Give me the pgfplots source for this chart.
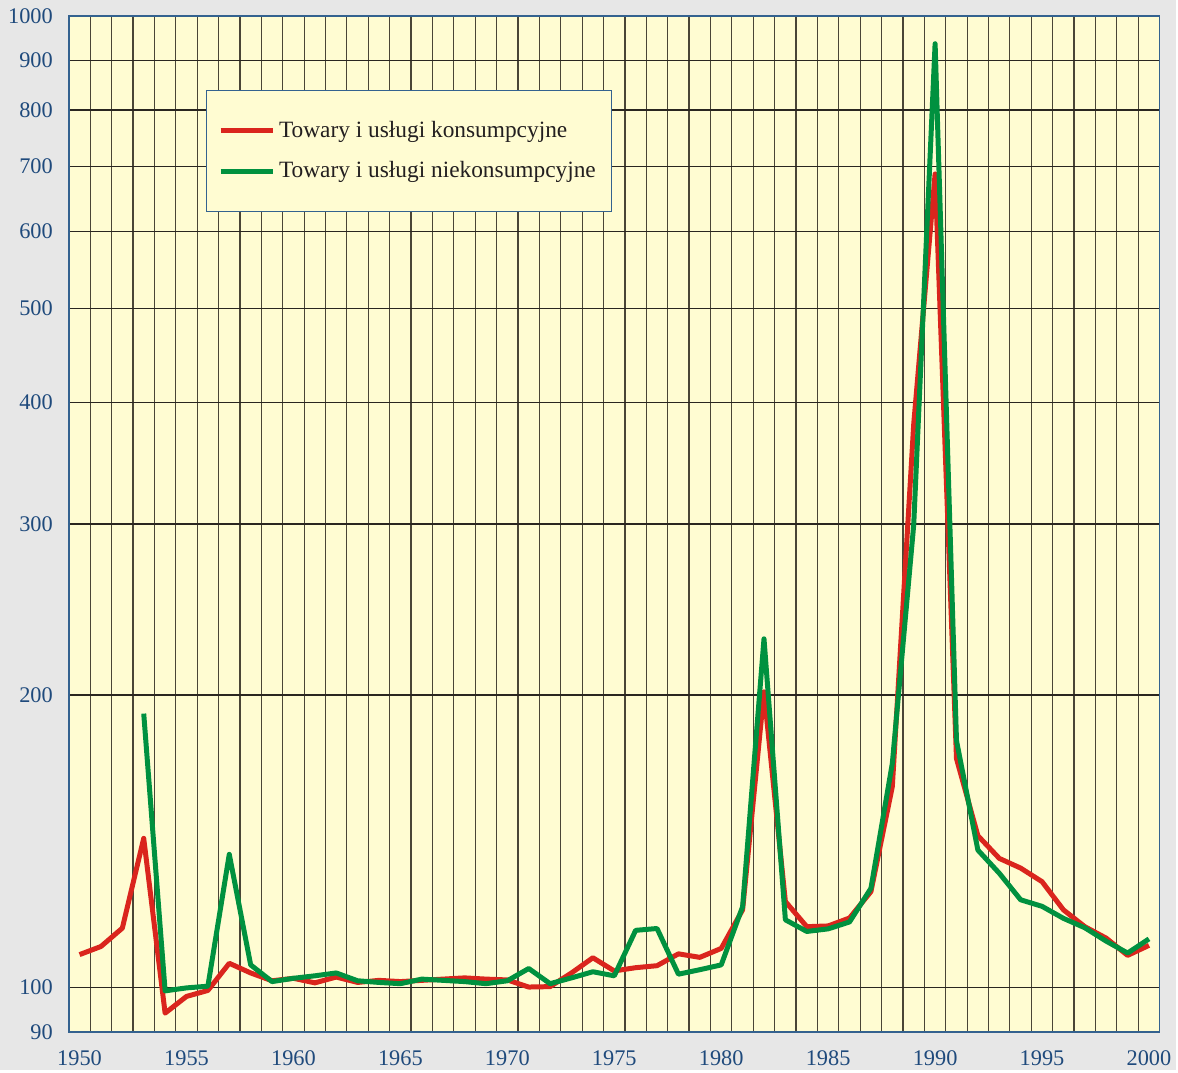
\documentclass[border=0pt]{standalone}
\usepackage{pgfplots}
\pgfplotsset{compat=1.18}
\usepackage{fontspec}
\setmainfont{Liberation Serif}
\definecolor{bggray}{HTML}{E7E7E7}
\definecolor{plotyellow}{HTML}{FFFCD2}
\definecolor{axisblue}{HTML}{34628F}
\definecolor{tickblue}{HTML}{1F4A7C}
\definecolor{gridv}{HTML}{4A4536}
\definecolor{gridh}{HTML}{2A2620}
\definecolor{redline}{HTML}{DA251D}
\definecolor{greenline}{HTML}{00913F}
\definecolor{textdark}{HTML}{231F20}
\begin{document}
\begin{tikzpicture}
\fill[bggray] (-34.5pt,-19pt) rectangle (554.5pt,517pt);
\begin{axis}[
  at={(0,0)}, anchor=south west,
  scale only axis, width=546.5pt, height=509pt,
  ymode=log,
  xmin=1949.5, xmax=2000.5, ymin=90, ymax=1000,
  axis background/.style={fill=plotyellow},
  axis line style={draw=axisblue, line width=0.8pt},
  xtick={1950,1955,...,2000},
  xticklabels={1950,1955,1960,1965,1970,1975,1980,1985,1990,1995,2000},
  minor xtick={1950.5,1951.5,...,1999.5},
  ytick={90,100,200,300,400,500,600,700,800,900,1000},
  yticklabels={90,100,200,300,400,500,600,700,800,900,1000},
  minor ytick={},
  major tick length=0pt, minor tick length=0pt,
  xminorgrids=true, ymajorgrids=true, xmajorgrids=false,
  minor x grid style={draw=gridv, line width=0.6pt},
  major y grid style={draw=gridh, line width=0.6pt},
  ticklabel style={font=\fontsize{11.2}{13}\selectfont, text=tickblue},
  xticklabel style={yshift=-6pt},
  yticklabel style={xshift=-4.5pt},
  legend style={at={(0.1253,0.9273)}, anchor=north west, draw=axisblue, line width=0.6pt,
    fill=plotyellow, inner xsep=6pt, inner ysep=13.5pt, row sep=6.5pt,
    font=\fontsize{11.7}{14}\selectfont, text=textdark,
    /tikz/every even column/.append style={column sep=3pt}},
  legend cell align=left,
  legend image code/.code={\draw[#1, line width=2.5pt] (0pt,0pt) -- (26pt,0pt);},
  clip=true,
]
\addplot[redline, line width=2.5pt, line join=round] coordinates {
(1950,108.1) (1951,110.2) (1952,115.1) (1953,142.4) (1954,94.1) (1955,97.9)
(1956,99.3) (1957,105.9) (1958,103.5) (1959,101.6) (1960,102.2) (1961,101.1)
(1962,102.5) (1963,101.2) (1964,101.7) (1965,101.4) (1966,101.7) (1967,102.0)
(1968,102.3) (1969,102.0) (1970,101.8) (1971,100.1) (1972,100.2) (1973,103.5)
(1974,107.3) (1975,104.0) (1976,104.8) (1977,105.3) (1978,108.3) (1979,107.4)
(1980,109.7) (1981,120.2) (1982,201.5) (1983,122.6) (1984,115.5) (1985,115.7)
(1986,117.9) (1987,125.5) (1988,161.0) (1989,380.0) (1990,687.6) (1991,172.0)
(1992,143.3) (1993,135.8) (1994,132.7) (1995,128.5) (1996,120.2) (1997,115.5)
(1998,112.4) (1999,107.9) (2000,110.5)
};
\addlegendentry{Towary i usługi konsumpcyjne}
\addplot[greenline, line width=2.5pt, line join=round] coordinates {
(1953,191.4) (1954,99.2) (1955,99.9) (1956,100.3) (1957,137.1) (1958,105.5)
(1959,101.4) (1960,102.2) (1961,102.8) (1962,103.5) (1963,101.6) (1964,101.2)
(1965,100.9) (1966,102.0) (1967,101.7) (1968,101.4) (1969,100.9) (1970,101.6)
(1971,104.6) (1972,100.9) (1973,102.3) (1974,103.8) (1975,102.8) (1976,114.5)
(1977,115.0) (1978,103.2) (1979,104.3) (1980,105.5) (1981,121.1) (1982,228.5)
(1983,117.4) (1984,114.2) (1985,114.9) (1986,116.8) (1987,126.5) (1988,170.1)
(1989,299.3) (1990,936.3) (1991,179.5) (1992,138.5) (1993,131.1) (1994,123.1)
(1995,121.2) (1996,117.8) (1997,115.2) (1998,111.6) (1999,108.5) (2000,112.2)
};
\addlegendentry{Towary i usługi niekonsumpcyjne\hspace{5.5pt}}
\end{axis}
\end{tikzpicture}
\end{document}
